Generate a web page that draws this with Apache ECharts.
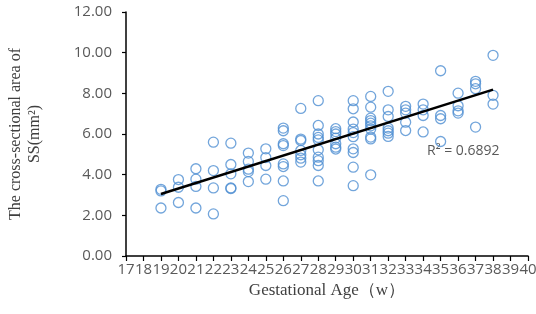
<!DOCTYPE html>
<html>
<head>
<meta charset="utf-8">
<script src="https://cdn.jsdelivr.net/npm/echarts@6/dist/echarts.min.js"></script>
<style>
html, body { margin: 0; padding: 0; background: #fff; }
#chart { width: 536px; height: 314px; }
</style>
</head>
<body>
<div id="chart"></div>
<script>
// gestational age (weeks) for each measurement
var gestAge = [
  19, 19, 19,
  20, 20, 20,
  21, 21, 21, 21,
  22, 22, 22, 22,
  23, 23, 23, 23, 23,
  24, 24, 24, 24, 24,
  25, 25, 25, 25,
  26, 26, 26, 26, 26, 26, 26, 26,
  27, 27, 27, 27, 27, 27, 27,
  28, 28, 28, 28, 28, 28, 28, 28, 28, 28,
  29, 29, 29, 29, 29, 29, 29,
  30, 30, 30, 30, 30, 30, 30, 30, 30, 30,
  31, 31, 31, 31, 31, 31, 31, 31, 31, 31,
  32, 32, 32, 32, 32, 32, 32,
  33, 33, 33, 33, 33,
  34, 34, 34, 34,
  35, 35, 35, 35,
  36, 36, 36, 36,
  37, 37, 37, 37,
  38, 38, 38
]
// cross-sectional area of SS (mm2)
var ssArea = [
  3.28, 3.20, 2.36,
  3.76, 3.38, 2.63,
  4.29, 3.78, 3.42, 2.36,
  5.60, 4.20, 3.35, 2.07,
  5.55, 4.50, 4.04, 3.35, 3.32,
  5.06, 4.65, 4.27, 4.15, 3.66,
  5.27, 4.84, 4.45, 3.78,
  6.29, 6.16, 5.52, 5.43, 4.53, 4.40, 3.69, 2.72,
  7.26, 5.75, 5.68, 5.19, 4.98, 4.81, 4.62,
  7.64, 6.42, 6.00, 5.83, 5.71, 5.22, 4.86, 4.69, 4.45, 3.69,
  6.26, 6.12, 6.00, 5.80, 5.52, 5.35, 5.26,
  7.64, 7.24, 6.59, 6.24, 6.07, 5.87, 5.27, 5.09, 4.37, 3.46,
  7.85, 7.32, 6.78, 6.66, 6.53, 6.40, 6.24, 5.85, 5.76, 3.99,
  8.10, 7.19, 6.86, 6.29, 6.16, 6.04, 5.88,
  7.36, 7.19, 7.03, 6.58, 6.17,
  7.47, 7.19, 6.91, 6.10,
  9.11, 6.91, 6.75, 5.63,
  8.01, 7.39, 7.14, 7.03,
  8.59, 8.47, 8.23, 6.34,
  9.87, 7.90, 7.47
]
// linear trend line end points
var trendAge = [19, 38]
var trendArea = [3.05, 8.18]

var points = gestAge.map(function(a, i) { return [a, ssArea[i]] })
var trend = trendAge.map(function(a, i) { return [a, trendArea[i]] })

var chart = echarts.init(document.getElementById('chart'))
var option = {
  animation: false,
  grid: {
    left: 126,
    right: 8,
    top: 12,
    bottom: 58,
    outerBoundsMode: 'none',
    containLabel: false
  },
  xAxis: {
    type: 'value',
    min: 17,
    max: 40,
    interval: 1,
    name: 'Gestational Age（w）',
    nameLocation: 'middle',
    nameGap: 17,
    nameTextStyle: {
      fontFamily: 'Liberation Serif',
      fontSize: 17,
      color: '#404040'
    },
    axisLine: { show: true, lineStyle: { color: '#000', width: 1.5 } },
    axisTick: { show: true, length: 5, lineStyle: { color: '#000', width: 1.2 } },
    axisLabel: {
      color: '#595959',
      fontFamily: 'Open Sans',
      fontSize: 15,
      margin: 6
    },
    splitLine: { show: false }
  },
  yAxis: {
    type: 'value',
    min: 0,
    max: 12,
    interval: 2,
    name: 'The cross-sectional area of\nSS(mm²)',
    nameLocation: 'middle',
    nameGap: 82,
    nameTextStyle: {
      fontFamily: 'Liberation Serif',
      fontSize: 16,
      lineHeight: 19,
      color: '#404040'
    },
    axisLine: { show: true, lineStyle: { color: '#000', width: 1.5 } },
    axisTick: { show: true, length: 4, lineStyle: { color: '#000', width: 1.2 } },
    axisLabel: {
      color: '#595959',
      fontFamily: 'Open Sans',
      fontSize: 15,
      margin: 14,
      formatter: function(v) { return v.toFixed(2) }
    },
    splitLine: { show: false }
  },
  series: [
    {
      type: 'scatter',
      data: points,
      symbol: 'circle',
      symbolSize: 10,
      itemStyle: {
        color: 'rgba(255,255,255,0)',
        borderColor: '#4F8FD2',
        borderWidth: 1.3
      },
      z: 2
    },
    {
      type: 'line',
      data: trend,
      symbol: 'none',
      lineStyle: { color: '#000', width: 2.5 },
      z: 3
    }
  ],
  graphic: [
    {
      type: 'text',
      left: 427,
      top: 144,
      style: {
        text: 'R² = 0.6892',
        fill: '#595959',
        font: '14px "Open Sans"'
      }
    }
  ]
}
chart.setOption(option, true)
</script>
</body>
</html>
